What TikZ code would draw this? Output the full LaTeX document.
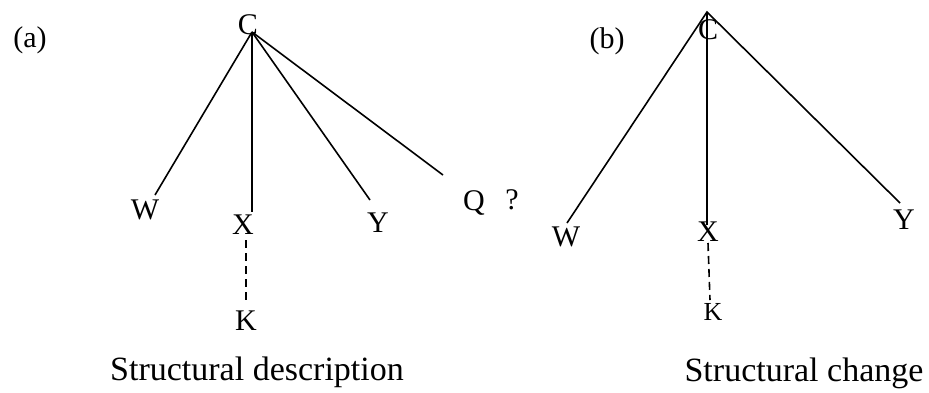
\documentclass[tikz,border=0pt]{standalone}
\usepackage{fontspec}
\setmainfont{Liberation Serif}
\begin{document}
\begin{tikzpicture}[
        x=1pt, y=-1pt,
        label/.style={inner sep=0pt, font=\fontsize{30}{34}\selectfont},
        small/.style={inner sep=0pt, font=\fontsize{26}{30}\selectfont},
        caption/.style={inner sep=0pt, font=\fontsize{34}{40}\selectfont},
        branch/.style={line width=1.6pt},
        trace/.style={line width=1.6pt, dashed, dash pattern=on 8pt off 5pt}
    ]
        \useasboundingbox (0,0) rectangle (929,392);

        % Tree (a)
        \node[label] (tagA) at (30, 40) {(a)};
        \node[label] (Ca) at (248, 25) {C};
        \node[label] (Wa) at (145, 210) {W};
        \node[label] (Xa) at (243, 225) {X};
        \node[label] (Ya) at (378, 223) {Y};
        \node[label] (Qa) at (474, 203) {Q};
        \node[label] (ques) at (512, 200) {?};
        \node[label] (Ka) at (246, 321) {K};
        \node[caption] (descr) at (257, 372) {Structural description};

        \coordinate (topA) at (252, 32);
        \coordinate (endWa) at (155, 195);
        \coordinate (endXa) at (252, 212);
        \coordinate (endYa) at (370, 200);
        \coordinate (endQa) at (443, 175);
        \coordinate (upKa) at (246, 240);
        \coordinate (dnKa) at (246, 301);

        \draw[branch] (topA) -- (endWa);
        \draw[branch] (topA) -- (endXa);
        \draw[branch] (topA) -- (endYa);
        \draw[branch] (topA) -- (endQa);
        \draw[trace] (upKa) -- (dnKa);

        % Tree (b)
        \node[label] (tagB) at (607, 41) {(b)};
        \node[label] (Cb) at (708, 30) {C};
        \node[label] (Wb) at (566, 237) {W};
        \node[label] (Xb) at (708, 232) {X};
        \node[label] (Yb) at (904, 220) {Y};
        \node[small] (Kb) at (713, 312) {K};
        \node[caption] (change) at (804, 373) {Structural change};

        \coordinate (topB) at (707, 12);
        \coordinate (endWb) at (567, 223);
        \coordinate (endXb) at (707, 225);
        \coordinate (endYb) at (900, 203);
        \coordinate (upKb) at (708, 243);
        \coordinate (dnKb) at (710, 300);

        \draw[branch] (endWb) -- (topB) -- (endYb);
        \draw[branch] (topB) -- (endXb);
        \draw[trace] (upKb) -- (dnKb);
\end{tikzpicture}
\end{document}
